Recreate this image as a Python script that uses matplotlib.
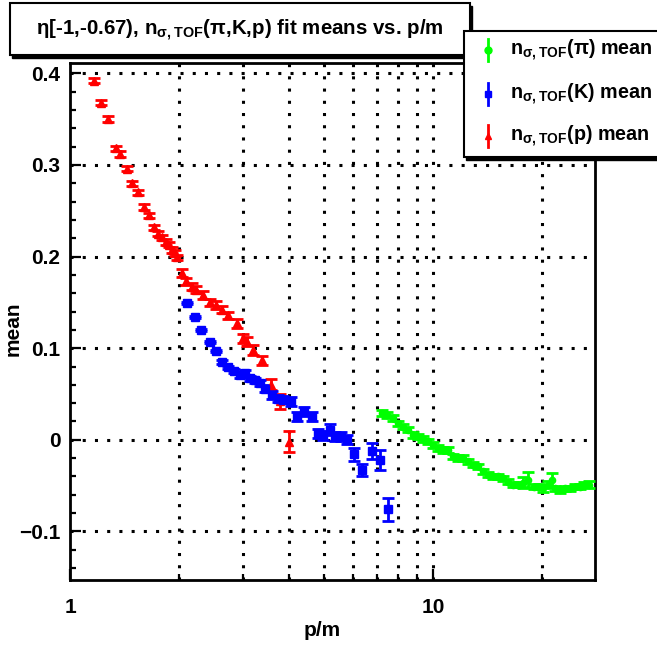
import matplotlib
matplotlib.use("Agg")
import matplotlib.pyplot as plt
from matplotlib.patches import Rectangle
from matplotlib.lines import Line2D
from matplotlib.ticker import FixedLocator, NullFormatter

plt.rcParams['font.family'] = ['Liberation Sans', 'DejaVu Sans']
plt.rcParams['font.weight'] = 'bold'
plt.rcParams['mathtext.default'] = 'regular'

# proton means
p_x = [1.164, 1.217, 1.275, 1.337, 1.373, 1.438, 1.482, 1.539, 1.599, 1.646,
       1.703, 1.751, 1.796, 1.835, 1.870, 1.909, 1.947, 1.966, 2.028, 2.09,
       2.17, 2.23, 2.32, 2.43, 2.53, 2.62, 2.73, 2.88, 3.0, 3.07,
       3.2, 3.37, 3.57, 3.79, 4.01]
p_y = [0.392, 0.368, 0.350, 0.318, 0.312, 0.296, 0.280, 0.270, 0.254, 0.245,
       0.232, 0.225, 0.221, 0.216, 0.213, 0.207, 0.204, 0.199, 0.182, 0.173,
       0.167, 0.164, 0.158, 0.150, 0.147, 0.142, 0.136, 0.127, 0.111, 0.107,
       0.098, 0.087, 0.060, 0.042, -0.002]
p_e = [0.003, 0.003, 0.003, 0.003, 0.003, 0.003, 0.003, 0.003, 0.003, 0.003,
       0.003, 0.003, 0.003, 0.003, 0.003, 0.003, 0.003, 0.003, 0.004, 0.004,
       0.004, 0.004, 0.004, 0.004, 0.004, 0.004, 0.004, 0.005, 0.005, 0.005,
       0.005, 0.005, 0.006, 0.008, 0.0115]

# kaon means
k_x = [2.10, 2.21, 2.30, 2.43, 2.52, 2.62, 2.72, 2.82, 2.93, 3.03,
       3.13, 3.23, 3.34, 3.45, 3.60, 3.75, 3.87, 4.06, 4.21, 4.41,
       4.63, 4.83, 4.98, 5.2, 5.37, 5.57, 5.79, 6.06, 6.36, 6.77,
       7.14, 7.53]
k_y = [0.149, 0.134, 0.120, 0.107, 0.097, 0.085, 0.079, 0.075, 0.071, 0.073,
       0.067, 0.065, 0.062, 0.056, 0.049, 0.045, 0.044, 0.042, 0.025, 0.031,
       0.025, 0.007, 0.005, 0.011, 0.004, 0.004, 0.0, -0.016, -0.033, -0.012,
       -0.022, -0.076]
k_e = [0.001, 0.001, 0.001, 0.001, 0.001, 0.002, 0.002, 0.002, 0.003, 0.003,
       0.003, 0.003, 0.003, 0.004, 0.004, 0.004, 0.004, 0.005, 0.005, 0.005,
       0.005, 0.005, 0.005, 0.006, 0.005, 0.005, 0.005, 0.007, 0.007, 0.009,
       0.0105, 0.013]

# pion means
pi_x = [7.24, 7.46, 7.77, 8.02, 8.28, 8.54, 8.81, 9.10, 9.39, 9.70,
        10.0, 10.33, 10.66, 11.0, 11.36, 11.7, 12.1, 12.5, 12.9, 13.3,
        13.7, 14.15, 14.6, 15.1, 15.6, 16.1, 16.6, 17.2, 17.7, 18.3,
        18.9, 19.5, 20.1, 20.7, 21.2, 21.7, 22.4, 23.1, 23.8, 24.5,
        25.3, 26.1, 26.9]
pi_y = [0.029, 0.027, 0.0236, 0.018, 0.0145, 0.011, 0.0054, 0.0036, 0.0007, -0.0018,
        -0.0055, -0.009, -0.011, -0.011, -0.018, -0.020, -0.020, -0.0236, -0.027, -0.029,
        -0.0345, -0.038, -0.040, -0.040, -0.042, -0.0455, -0.049, -0.049, -0.047, -0.0436,
        -0.051, -0.051, -0.053, -0.049, -0.0436, -0.053, -0.0545, -0.053, -0.053, -0.051,
        -0.051, -0.049, -0.049]
pi_e = [0.003] * 27 + [0.003, 0.006, 0.008,
                       0.003, 0.003, 0.004, 0.004, 0.0076, 0.003, 0.003, 0.003, 0.003, 0.003,
                       0.003, 0.003, 0.004]

W, H = 657, 648
fig = plt.figure(figsize=(W / 100, H / 100), dpi=100)

def fx(px):
    return px / W

def fy(py):
    return 1 - py / H

ax = fig.add_axes([fx(70), fy(580), fx(595) - fx(70), fy(62.7) - fy(580)])
ax.set_xscale('log')
ax.set_xlim(1, 27.9)
ax.set_ylim(-0.153, 0.4116)

ebar = dict(capsize=4.5, elinewidth=2, capthick=2, zorder=3)
ax.errorbar(p_x, p_y, yerr=p_e, fmt='^', color='red', ms=5.5, **ebar)
ax.errorbar(k_x, k_y, yerr=k_e, fmt='s', color='blue', ms=5.5, **ebar)
ax.errorbar(pi_x, pi_y, yerr=pi_e, fmt='o', color='#00ff00', ms=4.5, **ebar)

ax.xaxis.set_major_locator(FixedLocator([1, 10]))
ax.set_xticklabels(['1', '10'])
ax.xaxis.set_minor_locator(FixedLocator([2, 3, 4, 5, 6, 7, 8, 9, 20]))
ax.xaxis.set_minor_formatter(NullFormatter())
ax.set_yticks([-0.1, 0, 0.1, 0.2, 0.3, 0.4])
ax.set_yticklabels(['\u22120.1', '0', '0.1', '0.2', '0.3', '0.4'])
ax.set_yticks([v / 100 for v in range(-14, 41, 2)], minor=True)

ax.tick_params(axis='both', which='both', direction='in', top=False, right=False,
               labelsize=15, width=1.6)
ax.tick_params(axis='both', which='major', length=8)
ax.tick_params(axis='both', which='minor', length=4)
ax.tick_params(axis='x', pad=13)
ax.tick_params(axis='y', pad=7)

grid_style = dict(color='black', linestyle=(0, (1, 3)), linewidth=2.2)
for v in [2, 3, 4, 5, 6, 7, 8, 9, 10, 20]:
    ax.axvline(v, zorder=1, **grid_style)
for v in [-0.1, 0, 0.1, 0.2, 0.3, 0.4]:
    ax.axhline(v, zorder=1, **grid_style)

for s in ax.spines.values():
    s.set_linewidth(2)

ax.set_xlabel('p/m', fontsize=15, fontweight='bold')
ax.set_ylabel('mean', fontsize=15, fontweight='bold')
ax.xaxis.set_label_coords(0.48, -0.08)
ax.yaxis.set_label_coords(-0.09, 0.485)

# title box with shadow
fig.add_artist(Rectangle((fx(12), fy(58)), fx(470) - fx(10), fy(3) - fy(55),
                         transform=fig.transFigure, facecolor='black', edgecolor='black', zorder=5))
fig.add_artist(Rectangle((fx(10), fy(55)), fx(470) - fx(10), fy(3) - fy(55),
                         transform=fig.transFigure, facecolor='white', edgecolor='black',
                         linewidth=1.5, zorder=6))
fig.text(fx(240), fy(30), '\u03b7[-1,-0.67), n$_{\u03c3,TOF}$(\u03c0,K,p) fit means vs. p/m',
         ha='center', va='center', fontsize=14.8, fontweight='bold', zorder=7)

# legend box
fig.add_artist(Rectangle((fx(466), fy(160)), fx(700) - fx(464), fy(31) - fy(157),
                         transform=fig.transFigure, facecolor='black', edgecolor='black', zorder=5))
fig.add_artist(Rectangle((fx(464), fy(157)), fx(700) - fx(464), fy(31) - fy(157),
                         transform=fig.transFigure, facecolor='white', edgecolor='black',
                         linewidth=1.5, zorder=6))
legend_rows = [('n$_{\u03c3,TOF}$(\u03c0) mean', '#00ff00', 'o', 50),
               ('n$_{\u03c3,TOF}$(K) mean', 'blue', 's', 94),
               ('n$_{\u03c3,TOF}$(p) mean', 'red', '^', 136)]
for label, col, mk, py in legend_rows:
    fig.add_artist(Line2D([fx(488), fx(488)], [fy(py - 11), fy(py + 11)],
                          transform=fig.transFigure, color=col, linewidth=2, zorder=7))
    fig.add_artist(Line2D([fx(488)], [fy(py)], transform=fig.transFigure, color=col,
                          marker=mk, markersize=5, linestyle='none', zorder=7))
    fig.text(fx(510), fy(py), label, ha='left', va='center', fontsize=14.2,
             fontweight='bold', zorder=7)

fig.savefig('out.png', dpi=100)
